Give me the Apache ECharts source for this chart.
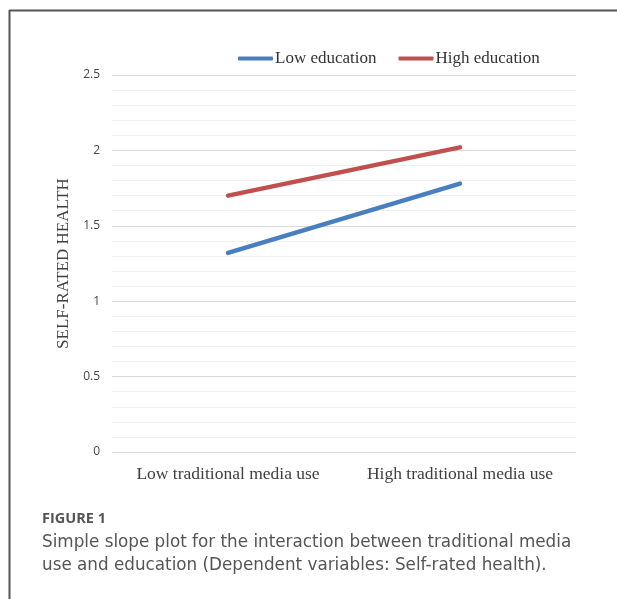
<!DOCTYPE html>
<html>
<head>
<meta charset="utf-8">
<script src="https://cdn.jsdelivr.net/npm/echarts@6/dist/echarts.min.js"></script>
<style>
html,body{margin:0;padding:0;background:#fff;}
#chart{width:617px;height:599px;}
</style>
</head>
<body>
<div id="chart"></div>
<script>
var categories = ['Low traditional media use', 'High traditional media use'];
var lowEducation = [1.32, 1.78];
var highEducation = [1.70, 2.02];
var seriesNames = ['Low education', 'High education'];
var yTicks = [0, 0.5, 1, 1.5, 2, 2.5];
var yAxisTitle = 'SELF-RATED HEALTH';
var captionLabel = 'FIGURE 1';
var captionLines = ['Simple slope plot for the interaction between traditional media', 'use and education (Dependent variables: Self-rated health).'];

var chart = echarts.init(document.getElementById('chart'));
var serif = '"Liberation Serif", "Times New Roman", serif';
var sans = '"Open Sans", "Noto Sans", sans-serif';
var capSans = '"DejaVu Sans", "Open Sans", sans-serif';
chart.setOption({
  animation: false,
  backgroundColor: '#fff',
  legend: {
    top: 45,
    left: 233,
    itemWidth: 35,
    itemHeight: 4,
    itemGap: 22,
    icon: 'roundRect',
    textStyle: {fontFamily: serif, fontSize: 17, color: '#333', padding: [0,0,0,-3]},
    data: seriesNames
  },
  grid: {left: 112, right: 41, top: 75, bottom: 147},
  xAxis: {
    type: 'category',
    data: categories,
    boundaryGap: true,
    axisLine: {show: false},
    axisTick: {show: false},
    axisLabel: {interval: 0, fontFamily: serif, fontSize: 17.5, color: '#404040', margin: 13}
  },
  yAxis: {
    type: 'value',
    min: 0, max: 2.5, interval: 0.5,
    name: yAxisTitle,
    nameLocation: 'middle',
    nameGap: 40,
    nameTextStyle: {fontFamily: serif, fontSize: 17, color: '#404040'},
    axisLine: {show: false},
    axisTick: {show: false},
    axisLabel: {fontFamily: sans, fontSize: 12, color: '#444', margin: 12,
      formatter: function(v){ return String(v); }},
    splitLine: {lineStyle: {color: '#d9d9d9', width: 1}},
    minorTick: {show: false, splitNumber: 5},
    minorSplitLine: {show: true, lineStyle: {color: '#f0f0f0', width: 1}}
  },
  series: [
    {name: seriesNames[0], type: 'line', data: lowEducation, symbol: 'none',
     lineStyle: {color: '#4a7ebf', width: 4.5, cap: 'round'}, itemStyle: {color: '#4a7ebf'}},
    {name: seriesNames[1], type: 'line', data: highEducation, symbol: 'none',
     lineStyle: {color: '#c0504d', width: 4.5, cap: 'round'}, itemStyle: {color: '#c0504d'}}
  ],
  graphic: [
    {type: 'line', shape: {x1: 9, y1: 10.5, x2: 617, y2: 10.5}, style: {stroke: '#555', lineWidth: 2}},
    {type: 'line', shape: {x1: 9.5, y1: 10, x2: 9.5, y2: 599}, style: {stroke: '#555', lineWidth: 2}},
    {type: 'text', left: 42, top: 511, style: {text: captionLabel, fontFamily: sans, fontSize: 14.5, fontWeight: 'bold', fill: '#555'}},
    {type: 'text', left: 42, top: 531, style: {text: captionLines.join('\n'), fontFamily: capSans, fontSize: 16.8, lineHeight: 23, fill: '#555'}}
  ]
});
</script>
</body>
</html>
